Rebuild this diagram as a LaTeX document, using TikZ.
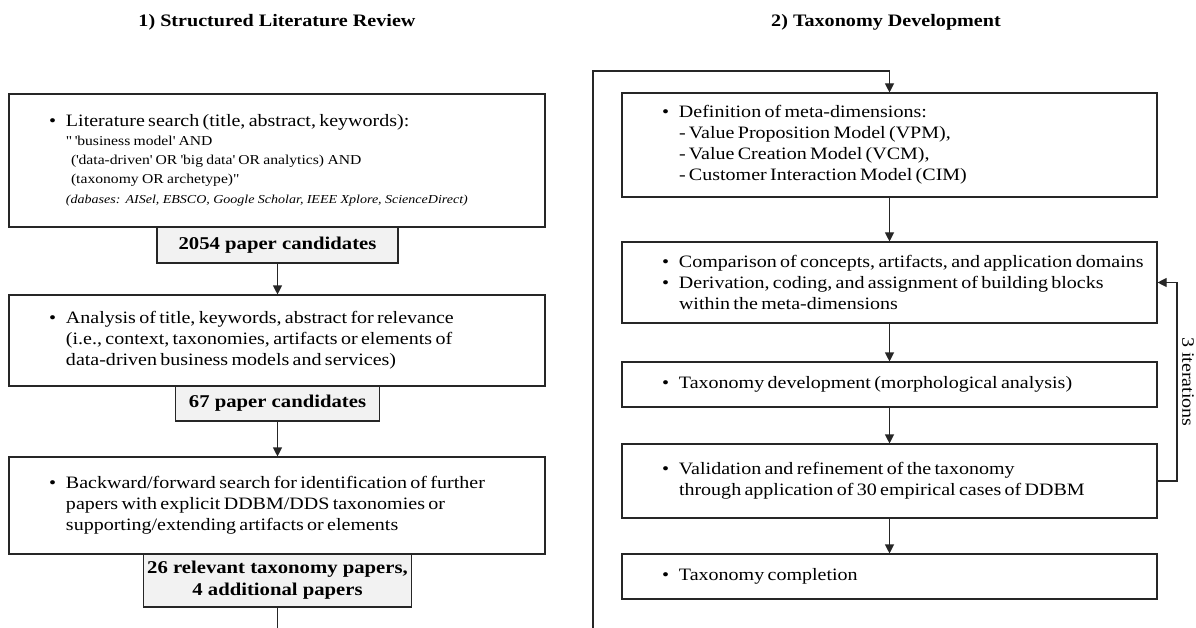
\documentclass[tikz,border=0pt]{standalone}
\usepackage{fontspec}
\setmainfont{Liberation Serif}[FakeStretch=1.15]
\usetikzlibrary{arrows.meta,calc}
\definecolor{lblfill}{HTML}{F2F2F2}
\definecolor{ln}{HTML}{262626}
\newcommand\bul{\makebox[17pt][l]{\textbullet}}
\newcommand\ind{\hspace*{17pt}}
\newcommand\sq{\textquotesingle}
\newcommand\dq{\textquotedbl}
\newcommand\bodyfont{\fontsize{17.4}{21}\selectfont}
\newcommand\smallfont{\fontsize{13.6}{19}\selectfont}
\newcommand\lpad[1]{\leftskip=#1\rightskip=0pt plus 1fil\parindent=0pt\relax}
\tikzset{
  boxbase/.style={draw=ln,line width=1.1pt,inner xsep=0pt,inner ysep=2pt},
  lbox/.style={boxbase,text width=536pt,minimum width=536pt},
  rbox/.style={boxbase,text width=535pt,minimum width=535pt},
  lbl/.style={draw=ln,fill=lblfill,line width=1.1pt,inner sep=0pt,align=center,
    font=\bfseries\fontsize{18}{22}\selectfont},
  ttl/.style={inner sep=0pt,font=\bfseries\fontsize{17.5}{20}\selectfont},
  arr/.style={draw=ln,line width=1.1pt,-{Triangle[length=9pt,width=9pt]}},
  ln/.style={draw=ln,line width=1.1pt}
}
\begin{document}
\begin{tikzpicture}[x=1pt,y=-1pt]
\useasboundingbox (0,0) rectangle (1196,628);

% titles
\node[ttl] (t1) at (277,22) {1) Structured Literature Review};
\node[ttl] (t2) at (886,22) {2) Taxonomy Development};

% left column
\node[lbox,minimum height=133pt] (B1) at (277,160.5) {\lpad{40pt}%
{\bodyfont\bul Literature search (title, abstract, keywords):\par}%
{\smallfont\ind\dq\ \sq business model\sq\ AND\\
\ind\hspace*{5pt}(\sq data-driven\sq\ OR \sq big data\sq\ OR analytics) AND\\
\ind\hspace*{5pt}(taxonomy OR archetype)\dq\par}%
{\fontsize{12.2}{19.5}\selectfont\itshape\ind(dabases: AISel, EBSCO, Google Scholar, IEEE Xplore, ScienceDirect)\par}};

\node[lbl,minimum width=241pt,minimum height=36pt] (L1) at (277.5,245) {2054 paper candidates};

\node[lbox,minimum height=91pt] (B2) at (277,340.5) {\lpad{40pt}\bodyfont
\bul Analysis of title, keywords, abstract for relevance\\
\ind(i.e., context, taxonomies, artifacts or elements of\\
\ind data-driven business models and services)\par};

\node[lbl,minimum width=204pt,minimum height=35pt] (L2) at (277.5,403.5) {67 paper candidates};

\node[lbox,minimum height=97pt] (B3) at (277,505.5) {\lpad{40pt}\bodyfont
\bul Backward/forward search for identification of further\\
\ind papers with explicit DDBM/DDS taxonomies or\\
\ind supporting/extending artifacts or elements\par};

\node[lbl,minimum width=268pt,minimum height=53pt] (L3) at (277.5,580.5) {26 relevant taxonomy papers,\\4 additional papers};

\coordinate (lend) at (277.5,628);

\draw[arr] (L1.south) -- (L1.south |- B2.north);
\draw[arr] (L2.south) -- (L2.south |- B3.north);
\draw[ln] (L3.south) -- (lend);

% right column
\node[rbox,minimum height=104pt] (R1) at (889.5,145) {\lpad{40pt}\bodyfont
\bul Definition of meta-dimensions:\\
\ind - Value Proposition Model (VPM),\\
\ind - Value Creation Model (VCM),\\
\ind - Customer Interaction Model (CIM)\par};

\node[rbox,minimum height=81pt] (R2) at (889.5,282.5) {\lpad{40pt}\bodyfont
\bul Comparison of concepts, artifacts, and application domains\\
\bul Derivation, coding, and assignment of building blocks\\
\ind within the meta-dimensions\par};

\node[rbox,minimum height=45pt] (R3) at (889.5,384.5) {\lpad{40pt}\bodyfont
\bul Taxonomy development (morphological analysis)\par};

\node[rbox,minimum height=74pt] (R4) at (889.5,481) {\lpad{40pt}\bodyfont
\bul Validation and refinement of the taxonomy\\
\ind through application of 30 empirical cases of DDBM\par};

\node[rbox,minimum height=45pt] (R5) at (889.5,576.5) {\lpad{40pt}\bodyfont
\bul Taxonomy completion\par};

\coordinate (loopbot) at (593,628);
\coordinate (looptop) at (593,71);
\draw[arr] (loopbot) -- (looptop) -| (R1.north);

\draw[arr] (R1.south) -- (R2.north);
\draw[arr] (R2.south) -- (R3.north);
\draw[arr] (R3.south) -- (R4.north);
\draw[arr] (R4.south) -- (R5.north);

\coordinate (fb) at (1177,481);
\draw[arr] (R4.east) -- (fb) |- (R2.east);
\node[rotate=-90,inner sep=0pt,font=\bodyfont] (it) at (1188,382) {3 iterations};
\end{tikzpicture}
\end{document}
